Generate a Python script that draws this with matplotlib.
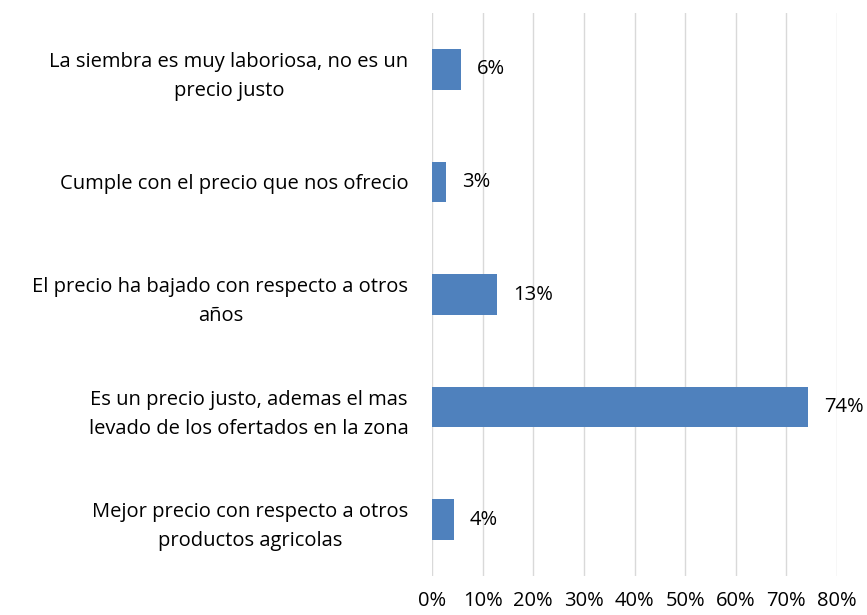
import numpy as np
import matplotlib.pyplot as plt

plt.rcParams['font.family'] = ['Open Sans', 'DejaVu Sans']

categorias = ['La siembra es muy laboriosa, no es un\nprecio justo',
              'Cumple con el precio que nos ofrecio',
              'El precio ha bajado con respecto a otros\naños',
              'Es un precio justo, ademas el mas\nlevado de los ofertados en la zona',
              'Mejor precio con respecto a otros\nproductos agricolas']
valores = [5.71, 2.86, 12.86, 74.29, 4.29]
etiquetas = ['6%', '3%', '13%', '74%', '4%']
xticks = [0, 10, 20, 30, 40, 50, 60, 70, 80]

fs = 14.5
fig = plt.figure(figsize=(8.67, 6.15), dpi=100)
ax = fig.add_axes([432/867, 39/615, 405/867, 563/615])

y = np.arange(len(categorias))
ax.barh(y, valores, height=0.36, color='#4F81BD', zorder=3)
for yi, v, t in zip(y, valores, etiquetas):
    ax.text(v + 3.1, yi, t, va='center', ha='left', fontsize=fs, color='black')

ax.set_ylim(len(categorias) - 0.5, -0.5)
ax.set_xlim(0, 80)
ax.set_xticks(xticks)
ax.set_xticklabels([f'{x}%' for x in xticks], fontsize=fs, color='black')
ax.set_yticks(y)
ax.set_yticklabels(categorias, fontsize=fs, color='black', multialignment='center',
                   linespacing=1.6)
ax.tick_params(axis='both', length=0)
ax.tick_params(axis='y', pad=17)
ax.tick_params(axis='x', pad=11)
ax.grid(axis='x', color='#D9D9D9', linewidth=1.0, zorder=0)
for s in ax.spines.values():
    s.set_visible(False)

fig.savefig('out.png', dpi=100)
